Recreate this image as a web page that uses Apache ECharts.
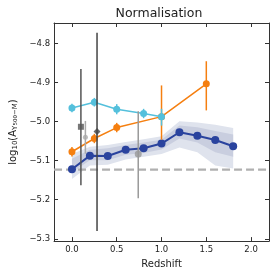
<!DOCTYPE html>
<html>
<head>
<meta charset="utf-8">
<script src="https://cdn.jsdelivr.net/npm/echarts@6/dist/echarts.min.js"></script>
<style>html,body{margin:0;padding:0;background:#fff}#c{width:274px;height:274px}</style>
</head>
<body>
<div id="c"></div>
<script>
// ---- data ----
const blueX = [0, 0.2, 0.4, 0.6, 0.8, 1.0, 1.2, 1.4, 1.6, 1.8];
const blueY = [-5.122, -5.087, -5.088, -5.072, -5.068, -5.056, -5.027, -5.036, -5.047, -5.063];
const outerHi = [-5.083, -5.064, -5.060, -5.052, -5.045, -5.037, -4.999, -5.002, -5.008, -5.016];
const innerHi = [-5.095, -5.072, -5.068, -5.060, -5.053, -5.046, -5.010, -5.014, -5.024, -5.033];
const innerLo = [-5.130, -5.099, -5.099, -5.085, -5.080, -5.071, -5.043, -5.053, -5.078, -5.090];
const outerLo = [-5.147, -5.112, -5.110, -5.097, -5.090, -5.083, -5.066, -5.078, -5.112, -5.120];

const orangeX = [0.0, 0.25, 0.5, 1.0, 1.5];
const orangeY = [-5.077, -5.043, -5.015, -4.987, -4.903];
const orangeLo = [-5.089, -5.055, -5.027, -5.046, -4.971];
const orangeHi = [-5.065, -5.031, -5.003, -4.907, -4.845];

const cyanX = [0.0, 0.25, 0.5, 0.8, 1.0];
const cyanY = [-4.965, -4.950, -4.968, -4.979, -4.987];
const cyanLo = [-4.976, -4.961, -4.981, -4.991, -5.010];
const cyanHi = [-4.954, -4.939, -4.955, -4.967, -4.967];

const grayX = [0.1, 0.15, 0.28, 0.74];
const grayY = [-5.013, -5.040, -5.025, -5.083];
const grayLo = [-5.163, -5.082, -5.280, -5.196];
const grayHi = [-4.865, -4.998, -4.772, -4.973];
const graySymbols = ['rect', 'circle', 'diamond', 'circle'];
const grayColors = ['#555555', '#aaaaaa', '#444444', '#999999'];

const refLevel = -5.1226;
const xRange = [-0.2, 2.2];
const yRange = [-5.306, -4.747];

// ---- helpers ----
const fmt = (v, step) => {
  const k = Math.round(v / step);
  if (Math.abs(v - k * step) > 1e-6) return '';
  return (k * step).toFixed(1).replace('-', '\u2212');
};

function bandSeries(hi, lo, color) {
  return {
    type: 'custom', silent: true, z: 1,
    data: blueX.map((x, i) => [x, hi[i], lo[i]]),
    encode: { x: 0, y: [1, 2] },
    renderItem: (params, api) => {
      if (params.dataIndex !== 0) return null;
      const pts = [];
      for (let i = 0; i < blueX.length; i++) pts.push(api.coord([blueX[i], hi[i]]));
      for (let i = blueX.length - 1; i >= 0; i--) pts.push(api.coord([blueX[i], lo[i]]));
      return { type: 'polygon', shape: { points: pts }, style: { fill: color } };
    }
  };
}

function errSeries(xs, lo, hi, colors, width, z) {
  return {
    type: 'custom', silent: true, z: z,
    data: xs.map((x, i) => [x, lo[i], hi[i], i]),
    encode: { x: 0, y: [1, 2] },
    renderItem: (params, api) => {
      const p1 = api.coord([api.value(0), api.value(1)]);
      const p2 = api.coord([api.value(0), api.value(2)]);
      const c = Array.isArray(colors) ? colors[api.value(3)] : colors;
      return { type: 'line', shape: { x1: p1[0], y1: p1[1], x2: p2[0], y2: p2[1] },
               style: { stroke: c, lineWidth: width } };
    }
  };
}

const frame = '#333333';
const baseX = {
  type: 'value', min: xRange[0], max: xRange[1], splitNumber: 5,
  axisLine: { show: true, onZero: false, lineStyle: { color: frame, width: 1 } },
  axisTick: { show: true, inside: true, length: 4, lineStyle: { color: frame } },
  splitLine: { show: false }
};
const baseY = {
  type: 'value', min: yRange[0], max: yRange[1], splitNumber: 5,
  axisLine: { show: true, onZero: false, lineStyle: { color: frame, width: 1 } },
  axisTick: { show: true, inside: true, length: 4, lineStyle: { color: frame } },
  splitLine: { show: false }
};

const chart = echarts.init(document.getElementById('c'), null, { renderer: 'canvas' });
const font = 'DejaVu Sans';
chart.setOption({
  animation: false,
  backgroundColor: '#ffffff',
  title: {
    text: 'Normalisation', left: 154, top: 2, textAlign: 'center',
    textStyle: { fontFamily: font, fontSize: 12.5, fontWeight: 'normal', color: '#222' }
  },
  grid: { left: 39, right: 5, top: 23, bottom: 29, containLabel: false },
  xAxis: [
    Object.assign({}, baseX, {
      position: 'bottom',
      name: 'Redshift', nameLocation: 'middle', nameGap: 17,
      nameTextStyle: { fontFamily: font, fontSize: 10, color: '#222' },
      axisLabel: { show: true, fontFamily: font, fontSize: 8.5, color: '#222', margin: 4,
                   showMinLabel: false, showMaxLabel: false, formatter: v => fmt(v, 0.5) }
    }),
    Object.assign({}, baseX, { position: 'top', axisLabel: { show: false } })
  ],
  yAxis: [
    Object.assign({}, baseY, {
      position: 'left',
      name: '{n|log}{s|10}{n|(A}{s|Y}{ss|500}{s|\u2212M}{n|)}', nameLocation: 'middle', nameGap: 28,
      nameTextStyle: {
        fontFamily: font, fontSize: 10, color: '#222',
        rich: {
          n: { fontFamily: font, fontSize: 10, color: '#222' },
          s: { fontFamily: font, fontSize: 7, color: '#222', verticalAlign: 'bottom', padding: [4, 0, 0, 0] },
          ss: { fontFamily: font, fontSize: 5.5, color: '#222', verticalAlign: 'bottom', padding: [5, 0, 0, 0] }
        }
      },
      axisLabel: { show: true, fontFamily: font, fontSize: 8.5, color: '#222', margin: 4,
                   showMinLabel: false, showMaxLabel: false, formatter: v => fmt(v, 0.1) }
    }),
    Object.assign({}, baseY, { position: 'right', axisLabel: { show: false } })
  ],
  series: [
    bandSeries(outerHi, outerLo, '#dfe3ed'),
    bandSeries(innerHi, innerLo, '#c9cedf'),
    {
      type: 'line', data: [[xRange[0], refLevel], [xRange[1], refLevel]], symbol: 'none', z: 2,
      lineStyle: { color: '#b0b0b0', width: 2.2, type: [8, 4] }, silent: true
    },
    {
      type: 'line', data: blueX.map((x, i) => [x, blueY[i]]), z: 3,
      symbol: 'circle', symbolSize: 8, itemStyle: { color: '#2a439e' },
      lineStyle: { color: '#2a439e', width: 2 }
    },
    errSeries(orangeX, orangeLo, orangeHi, '#f57f10', 1.5, 4),
    {
      type: 'line', data: orangeX.map((x, i) => [x, orangeY[i]]), z: 4,
      symbol: 'circle', symbolSize: 7, itemStyle: { color: '#f57f10' },
      lineStyle: { color: '#f57f10', width: 1.5 }
    },
    errSeries(cyanX, cyanLo, cyanHi, '#54c0dc', 1.5, 5),
    {
      type: 'line', data: cyanX.map((x, i) => [x, cyanY[i]]), z: 5,
      symbol: 'circle', symbolSize: 7, itemStyle: { color: '#54c0dc' },
      lineStyle: { color: '#54c0dc', width: 1.5 }
    },
    errSeries(grayX, grayLo, grayHi, grayColors, 1.5, 6),
    {
      type: 'scatter', z: 7,
      data: grayX.map((x, i) => ({ value: [x, grayY[i]], symbol: graySymbols[i],
        symbolSize: [6, 5, 7, 7][i], itemStyle: { color: grayColors[i] } }))
    }
  ]
});
</script>
</body>
</html>
